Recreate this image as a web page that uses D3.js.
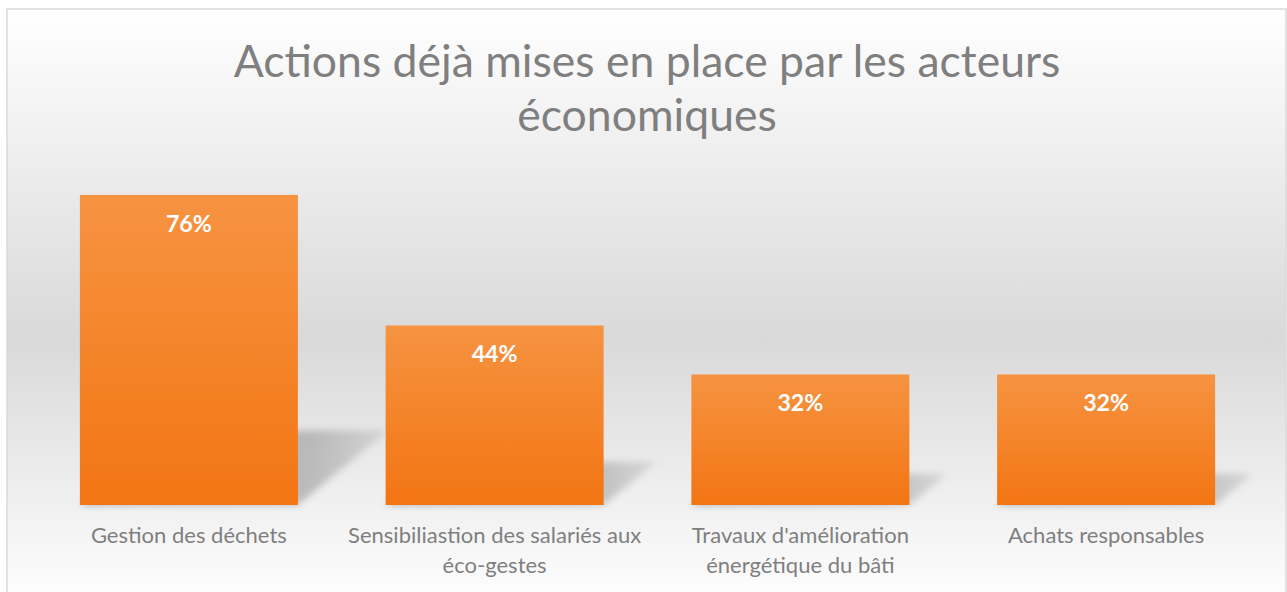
<!DOCTYPE html>
<html>
<head>
<meta charset="utf-8">
<script src="https://cdn.jsdelivr.net/npm/d3@7"></script>
<style>
  html, body { margin: 0; padding: 0; background: #ffffff; }
  svg { display: block; }
</style>
</head>
<body>
<svg id="chart" width="1287" height="592"></svg>
<script>
const titleLines = ["Actions déjà mises en place par les acteurs", "économiques"];
const categories = [
  "Gestion des déchets",
  "Sensibiliastion des salariés aux éco-gestes",
  "Travaux d'amélioration énergétique du bâti",
  "Achats responsables"
];
const categoryLines = [
  ["Gestion des déchets"],
  ["Sensibiliastion des salariés aux", "éco-gestes"],
  ["Travaux d'amélioration", "énergétique du bâti"],
  ["Achats responsables"]
];
const values = [0.76, 0.44, 0.32, 0.32];

const W = 1287, H = 592;
const svg = d3.select("#chart");
const defs = svg.append("defs");

// background gradient
const bg = defs.append("linearGradient").attr("id", "bg")
  .attr("x1", 0).attr("y1", 0).attr("x2", 0).attr("y2", 1);
bg.append("stop").attr("offset", "0%").attr("stop-color", "#ffffff");
bg.append("stop").attr("offset", "55%").attr("stop-color", "#d9d9d9");
bg.append("stop").attr("offset", "100%").attr("stop-color", "#ffffff");

const barGrad = defs.append("linearGradient").attr("id", "barg")
  .attr("x1", 0).attr("y1", 0).attr("x2", 0).attr("y2", 1);
barGrad.append("stop").attr("offset", "0%").attr("stop-color", "#f69341");
barGrad.append("stop").attr("offset", "100%").attr("stop-color", "#f37513");

const shGrad = defs.append("linearGradient").attr("id", "shg")
  .attr("x1", 0).attr("y1", 0).attr("x2", 1).attr("y2", 0);
shGrad.append("stop").attr("offset", "0%").attr("stop-color", "#9a9a9a").attr("stop-opacity", 0.8);
shGrad.append("stop").attr("offset", "75%").attr("stop-color", "#9a9a9a").attr("stop-opacity", 0.6);
shGrad.append("stop").attr("offset", "100%").attr("stop-color", "#9a9a9a").attr("stop-opacity", 0.25);

const blur = defs.append("filter").attr("id", "blur")
  .attr("x", "-30%").attr("y", "-30%").attr("width", "160%").attr("height", "160%");
blur.append("feGaussianBlur").attr("stdDeviation", 3.5);

// chart area
svg.append("rect").attr("x", 7).attr("y", 9).attr("width", 1279).attr("height", 600)
  .attr("fill", "url(#bg)").attr("stroke", "#d9d9d9").attr("stroke-width", 1.5);

const x = d3.scaleBand().domain(categories).range([36, 1259]).paddingInner(0.287).paddingOuter(0.1435);
const y = d3.scaleLinear().domain([0, 1]).range([505, 97]);

// shadows
const sh = svg.append("g").attr("filter", "url(#blur)");
sh.selectAll("path").data(categories).join("path")
  .attr("d", (c, i) => {
    const x0 = x(c), x1 = x(c) + x.bandwidth();
    const b = y(0), h = y(0) - y(values[i]);
    const dx = 0.29 * h, dy = 0.24 * h;
    return `M${x0},${b} L${x1},${b} L${x1 + dx},${b - dy} L${x0 + dx},${b - dy} Z`;
  })
  .attr("fill", "url(#shg)");

// bars
svg.append("g").selectAll("rect").data(categories).join("rect")
  .attr("x", c => x(c))
  .attr("y", (c, i) => y(values[i]))
  .attr("width", x.bandwidth())
  .attr("height", (c, i) => y(0) - y(values[i]))
  .attr("fill", "url(#barg)");

function fit(sel, target) {
  const node = sel.node();
  const fs = parseFloat(sel.attr("font-size"));
  const w = node.getComputedTextLength();
  sel.attr("font-size", fs * target / w);
}

const fontFam = "Lato, 'Open Sans', sans-serif";

// title
const t1 = svg.append("text").attr("x", 647).attr("y", 77).attr("text-anchor", "middle")
  .attr("font-family", fontFam).attr("font-size", 40).attr("fill", "#7f7f7f").text(titleLines[0]);
fit(t1, 827);
svg.append("text").attr("x", 647).attr("y", 131).attr("text-anchor", "middle")
  .attr("font-family", fontFam).attr("font-size", t1.attr("font-size")).attr("fill", "#7f7f7f").text(titleLines[1]);

// value labels
const vl = svg.append("g").selectAll("text").data(categories).join("text")
  .attr("x", c => x(c) + x.bandwidth() / 2)
  .attr("y", (c, i) => y(values[i]) + 37)
  .attr("text-anchor", "middle")
  .attr("font-family", fontFam).attr("font-weight", "bold")
  .attr("font-size", 20).attr("fill", "#ffffff")
  .text((c, i) => Math.round(values[i] * 100) + "%");
const tmp = d3.select(vl.nodes()[0]);
fit(tmp, 46);
vl.attr("font-size", tmp.attr("font-size"));

// category labels
const cl = svg.append("g").selectAll("text").data(categories).join("text")
  .attr("x", c => x(c) + x.bandwidth() / 2)
  .attr("y", 543)
  .attr("text-anchor", "middle")
  .attr("font-family", fontFam).attr("font-size", 19).attr("fill", "#7f7f7f");
cl.each(function(c, i) {
  d3.select(this).selectAll("tspan").data(categoryLines[i]).join("tspan")
    .attr("x", x(c) + x.bandwidth() / 2)
    .attr("dy", (d, j) => j === 0 ? 0 : 29.5)
    .text(d => d);
});
const probe = svg.append("text").attr("font-family", fontFam).attr("font-size", 19).text(categoryLines[0][0]);
const pw = probe.node().getComputedTextLength();
probe.remove();
cl.attr("font-size", 19 * 196 / pw);
</script>
</body>
</html>
